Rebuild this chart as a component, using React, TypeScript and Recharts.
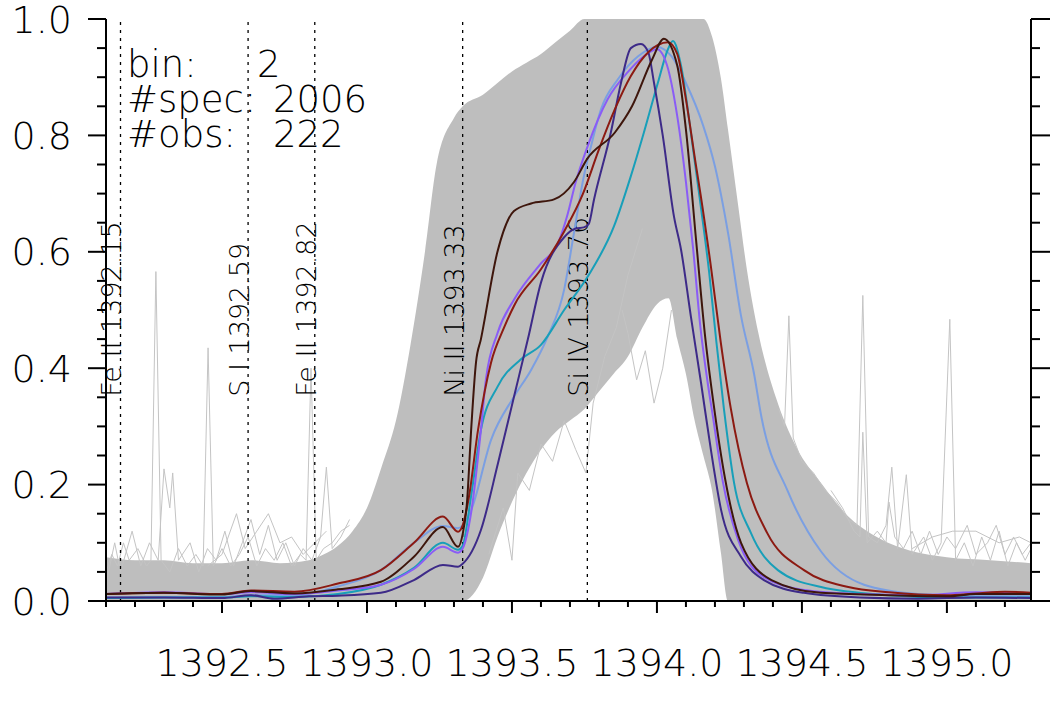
import React from 'react';
import { ComposedChart, Line, Area, XAxis, YAxis, ReferenceLine } from 'recharts';

// axis ticks (minor + major), majors get labels
const xTicks = [
  1392.1, 1392.2, 1392.3, 1392.4, 1392.5, 1392.6, 1392.7, 1392.8, 1392.9,
  1393.0, 1393.1, 1393.2, 1393.3, 1393.4, 1393.5, 1393.6, 1393.7, 1393.8, 1393.9,
  1394.0, 1394.1, 1394.2, 1394.3, 1394.4, 1394.5, 1394.6, 1394.7, 1394.8, 1394.9,
  1395.0, 1395.1, 1395.2,
];
const xMajor = [1392.5, 1393.0, 1393.5, 1394.0, 1394.5, 1395.0];
const yTicks = [
  0, 0.05, 0.1, 0.15, 0.2, 0.25, 0.3, 0.35, 0.4, 0.45, 0.5,
  0.55, 0.6, 0.65, 0.7, 0.75, 0.8, 0.85, 0.9, 0.95, 1.0,
];
const yMajor = [0, 0.2, 0.4, 0.6, 0.8, 1.0];

// line identifications
const lineIds = [1392.15, 1392.59, 1392.82, 1393.33, 1393.76];
const lineNames = ['Fe II 1392.15', 'S I 1392.59', 'Fe II 1392.82', 'Ni II 1393.33', 'Si IV 1393.76'];

// legend rows
const legendRows: [string, string][] = [
  ['bin:', '2'],
  ['#spec:', '2006'],
  ['#obs:', '222'],
];

// envelope of the grey spectra: [wavelength, low, high]
const envelope: [number, number, number][] = [
  [1392.10, 0, 0.075], [1392.20, 0, 0.07], [1392.30, 0, 0.07], [1392.40, 0, 0.065],
  [1392.50, 0, 0.065], [1392.60, 0, 0.07], [1392.70, 0, 0.065], [1392.80, 0, 0.07],
  [1392.85, 0, 0.08], [1392.90, 0, 0.095], [1392.95, 0, 0.12], [1393.00, 0, 0.16],
  [1393.05, 0, 0.23], [1393.10, 0, 0.31], [1393.15, 0, 0.44], [1393.20, 0, 0.6],
  [1393.24, 0, 0.75], [1393.30, 0, 0.83], [1393.33, 0, 0.85], [1393.40, 0.04, 0.87],
  [1393.45, 0.11, 0.89], [1393.50, 0.17, 0.91], [1393.55, 0.22, 0.925], [1393.60, 0.26, 0.94],
  [1393.65, 0.29, 0.96], [1393.70, 0.31, 0.98], [1393.75, 0.33, 1.0], [1393.80, 0.36, 1.0],
  [1393.85, 0.39, 1.0], [1393.90, 0.42, 1.0], [1393.95, 0.47, 1.0], [1394.00, 0.51, 1.0],
  [1394.04, 0.52, 1.0], [1394.07, 0.45, 1.0], [1394.10, 0.39, 1.0], [1394.13, 0.31, 1.0],
  [1394.16, 0.25, 1.0], [1394.19, 0.19, 0.97], [1394.22, 0.085, 0.9], [1394.245, 0, 0.81],
  [1394.28, 0, 0.68], [1394.31, 0, 0.57], [1394.35, 0, 0.46], [1394.41, 0, 0.35],
  [1394.48, 0, 0.265], [1394.57, 0, 0.2], [1394.66, 0, 0.145], [1394.74, 0, 0.115],
  [1394.85, 0, 0.09], [1395.00, 0, 0.075], [1395.15, 0, 0.07], [1395.29, 0, 0.065],
];

// individual grey spectra standing out of the cloud
const greyL1: [number, number][] = [
  [1392.10, 0.05], [1392.12, 0.08], [1392.14, 0.06], [1392.16, 0.1], [1392.18, 0.07], [1392.21, 0.09],
  [1392.24, 0.06], [1392.255, 0.07], [1392.272, 0.566], [1392.29, 0.07], [1392.32, 0.05], [1392.35, 0.09],
  [1392.38, 0.06], [1392.41, 0.08], [1392.435, 0.06], [1392.452, 0.435], [1392.47, 0.06], [1392.5, 0.09],
  [1392.53, 0.06], [1392.56, 0.08], [1392.59, 0.11], [1392.62, 0.06], [1392.65, 0.09], [1392.68, 0.07],
  [1392.71, 0.1], [1392.74, 0.06], [1392.77, 0.08], [1392.79, 0.07], [1392.807, 0.4], [1392.825, 0.07],
  [1392.85, 0.09], [1392.88, 0.1], [1392.91, 0.12], [1392.94, 0.13],
];
const greyL2: [number, number][] = [
  [1392.10, 0.03], [1392.13, 0.1], [1392.15, 0.05], [1392.19, 0.12], [1392.22, 0.06], [1392.25, 0.1],
  [1392.28, 0.07], [1392.30, 0.227], [1392.32, 0.16], [1392.33, 0.22], [1392.35, 0.07], [1392.39, 0.1],
  [1392.42, 0.05], [1392.45, 0.09], [1392.48, 0.07], [1392.51, 0.12], [1392.54, 0.06], [1392.57, 0.1],
  [1392.60, 0.14], [1392.63, 0.08], [1392.66, 0.13], [1392.69, 0.07], [1392.72, 0.1], [1392.75, 0.06],
  [1392.78, 0.09], [1392.81, 0.07], [1392.84, 0.11], [1392.86, 0.23], [1392.88, 0.09], [1392.91, 0.11],
  [1392.94, 0.14],
];
const greyL3: [number, number][] = [
  [1392.45, 0.06], [1392.50, 0.08], [1392.55, 0.15], [1392.58, 0.09], [1392.62, 0.12], [1392.66, 0.15],
  [1392.70, 0.1], [1392.74, 0.11], [1392.78, 0.08], [1392.82, 0.1], [1392.86, 0.12],
];
const greyR1: [number, number][] = [
  [1394.42, 0.33], [1394.44, 0.3], [1394.455, 0.49], [1394.47, 0.28], [1394.50, 0.24], [1394.54, 0.22],
  [1394.58, 0.19], [1394.62, 0.17], [1394.66, 0.14], [1394.69, 0.13], [1394.71, 0.525], [1394.73, 0.11],
  [1394.76, 0.1], [1394.79, 0.13], [1394.81, 0.23], [1394.83, 0.09], [1394.86, 0.217], [1394.88, 0.08],
  [1394.92, 0.11], [1394.95, 0.07], [1394.98, 0.1], [1395.01, 0.484], [1395.03, 0.07], [1395.06, 0.1],
  [1395.09, 0.06], [1395.12, 0.11], [1395.15, 0.07], [1395.18, 0.12], [1395.21, 0.06], [1395.24, 0.1],
  [1395.27, 0.07], [1395.29, 0.09],
];
const greyR2: [number, number][] = [
  [1394.60, 0.19], [1394.64, 0.16], [1394.68, 0.12], [1394.70, 0.11], [1394.71, 0.29], [1394.725, 0.1],
  [1394.76, 0.12], [1394.79, 0.1], [1394.80, 0.17], [1394.82, 0.11], [1394.85, 0.09], [1394.88, 0.12],
  [1394.91, 0.08], [1394.94, 0.12], [1394.97, 0.08], [1395.00, 0.11], [1395.03, 0.09], [1395.07, 0.13],
  [1395.10, 0.08], [1395.14, 0.1], [1395.17, 0.13], [1395.20, 0.08], [1395.23, 0.11], [1395.26, 0.08],
  [1395.29, 0.1],
];
const greyR3: [number, number][] = [
  [1394.88, 0.09], [1394.95, 0.11], [1395.02, 0.12], [1395.10, 0.12], [1395.18, 0.1], [1395.25, 0.11],
  [1395.29, 0.1],
];
const greyH1: [number, number][] = [
  [1393.42, 0.08], [1393.47, 0.16], [1393.50, 0.07], [1393.52, 0.22], [1393.56, 0.19], [1393.60, 0.27],
  [1393.64, 0.24], [1393.68, 0.31], [1393.72, 0.26], [1393.755, 0.22], [1393.78, 0.34], [1393.82, 0.42],
  [1393.86, 0.47], [1393.90, 0.56], [1393.95, 0.64],
];
const greyH2: [number, number][] = [
  [1393.88, 0.5], [1393.90, 0.46], [1393.93, 0.38], [1393.96, 0.43], [1393.99, 0.34], [1394.02, 0.4],
  [1394.05, 0.5],
];

// representative profiles
const brownProfile: [number, number][] = [
  [1392.10, 0.012], [1392.30, 0.014], [1392.50, 0.011], [1392.60, 0.017], [1392.75, 0.013], [1392.90, 0.02],
  [1393.048, 0.033], [1393.162, 0.076], [1393.262, 0.127], [1393.314, 0.093], [1393.33, 0.115],
  [1393.345, 0.17], [1393.36, 0.3], [1393.376, 0.41], [1393.393, 0.45], [1393.45, 0.6], [1393.507, 0.67],
  [1393.566, 0.683], [1393.645, 0.69], [1393.714, 0.72], [1393.76, 0.76], [1393.855, 0.805],
  [1393.914, 0.85], [1393.983, 0.93], [1394.024, 0.966], [1394.07, 0.92], [1394.10, 0.81],
  [1394.135, 0.62], [1394.165, 0.46], [1394.195, 0.34], [1394.235, 0.21], [1394.29, 0.1],
  [1394.395, 0.036], [1394.565, 0.014], [1394.80, 0.01], [1395.00, 0.008], [1395.10, 0.012], [1395.29, 0.012],
];
const indigoProfile: [number, number][] = [
  [1392.10, 0.006], [1392.30, 0.006], [1392.50, 0.005], [1392.60, 0.01], [1392.68, 0.004], [1392.80, 0.008],
  [1392.90, 0.009], [1393.048, 0.014], [1393.162, 0.036], [1393.262, 0.062], [1393.314, 0.059],
  [1393.33, 0.064], [1393.393, 0.122], [1393.452, 0.237], [1393.507, 0.351], [1393.555, 0.45],
  [1393.60, 0.547], [1393.68, 0.625], [1393.72, 0.64], [1393.748, 0.642], [1393.765, 0.648],
  [1393.783, 0.69], [1393.841, 0.805], [1393.876, 0.89], [1393.91, 0.95], [1393.945, 0.957],
  [1393.97, 0.943], [1393.99, 0.89], [1394.02, 0.8], [1394.059, 0.66], [1394.083, 0.604],
  [1394.117, 0.489], [1394.152, 0.375], [1394.186, 0.26], [1394.221, 0.157], [1394.29, 0.076],
  [1394.369, 0.036], [1394.507, 0.014], [1394.70, 0.006], [1394.90, 0.004], [1395.10, 0.006], [1395.29, 0.005],
];
const violetProfile: [number, number][] = [
  [1392.10, 0.012], [1392.30, 0.015], [1392.50, 0.012], [1392.60, 0.015], [1392.75, 0.012], [1392.90, 0.018],
  [1393.048, 0.028], [1393.162, 0.055], [1393.262, 0.093], [1393.314, 0.083], [1393.33, 0.09],
  [1393.359, 0.151], [1393.393, 0.294], [1393.41, 0.38], [1393.45, 0.46], [1393.51, 0.52], [1393.60, 0.58],
  [1393.66, 0.616], [1393.69, 0.661], [1393.72, 0.72], [1393.76, 0.78], [1393.83, 0.862], [1393.90, 0.909],
  [1393.955, 0.936], [1394.00, 0.948], [1394.035, 0.92], [1394.07, 0.833], [1394.10, 0.72],
  [1394.125, 0.604], [1394.15, 0.47], [1394.175, 0.375], [1394.193, 0.317], [1394.228, 0.203],
  [1394.28, 0.105], [1394.369, 0.041], [1394.507, 0.019], [1394.70, 0.012], [1394.90, 0.01],
  [1395.10, 0.015], [1395.29, 0.012],
];
const redProfile: [number, number][] = [
  [1392.10, 0.012], [1392.30, 0.014], [1392.50, 0.012], [1392.60, 0.018], [1392.75, 0.016], [1392.90, 0.03],
  [1393.048, 0.053], [1393.162, 0.1], [1393.262, 0.145], [1393.314, 0.119], [1393.33, 0.13],
  [1393.352, 0.18], [1393.383, 0.294], [1393.428, 0.41], [1393.473, 0.47], [1393.51, 0.51], [1393.60, 0.57],
  [1393.68, 0.635], [1393.745, 0.7], [1393.80, 0.776], [1393.855, 0.845], [1393.91, 0.902], [1393.97, 0.943],
  [1394.038, 0.96], [1394.07, 0.94], [1394.10, 0.862], [1394.135, 0.747], [1394.15, 0.7], [1394.186, 0.575],
  [1394.22, 0.445], [1394.255, 0.33], [1394.31, 0.203], [1394.38, 0.117], [1394.507, 0.053],
  [1394.66, 0.024], [1394.80, 0.015], [1395.00, 0.01], [1395.10, 0.013], [1395.20, 0.016], [1395.29, 0.014],
];
const tealProfile: [number, number][] = [
  [1392.10, 0.005], [1392.30, 0.006], [1392.50, 0.006], [1392.60, 0.008], [1392.75, 0.007], [1392.90, 0.012],
  [1393.048, 0.028], [1393.162, 0.057], [1393.262, 0.1], [1393.314, 0.088], [1393.33, 0.095],
  [1393.359, 0.18], [1393.393, 0.294], [1393.45, 0.368], [1393.53, 0.415], [1393.60, 0.44], [1393.68, 0.5],
  [1393.762, 0.558], [1393.852, 0.644], [1393.91, 0.73], [1393.955, 0.805], [1394.003, 0.89],
  [1394.038, 0.948], [1394.055, 0.962], [1394.083, 0.92], [1394.117, 0.805], [1394.148, 0.69],
  [1394.18, 0.565], [1394.205, 0.445], [1394.231, 0.33], [1394.266, 0.203], [1394.324, 0.117],
  [1394.417, 0.053], [1394.566, 0.024], [1394.80, 0.01], [1395.00, 0.006], [1395.29, 0.006],
];
const blueProfile: [number, number][] = [
  [1392.10, 0.006], [1392.30, 0.007], [1392.50, 0.007], [1392.60, 0.01], [1392.75, 0.01], [1392.90, 0.025],
  [1393.048, 0.053], [1393.162, 0.1], [1393.262, 0.129], [1393.314, 0.125], [1393.33, 0.13],
  [1393.36, 0.157], [1393.428, 0.277], [1393.507, 0.351], [1393.566, 0.397], [1393.624, 0.455],
  [1393.68, 0.535], [1393.714, 0.633], [1393.748, 0.73], [1393.77, 0.776], [1393.807, 0.845],
  [1393.866, 0.897], [1393.935, 0.936], [1394.00, 0.952], [1394.05, 0.936], [1394.10, 0.89],
  [1394.16, 0.816], [1394.20, 0.747], [1394.245, 0.633], [1394.29, 0.49], [1394.335, 0.39],
  [1394.36, 0.317], [1394.45, 0.19], [1394.566, 0.085], [1394.714, 0.028], [1394.90, 0.012],
  [1395.10, 0.008], [1395.29, 0.008],
];

const toXY = (pts: [number, number][]) => pts.map(([x, y]) => ({ x, y }));
const envData = envelope.map(([x, lo, hi]) => ({ x, band: [lo, hi] }));

const greyLines = [greyL1, greyL2, greyL3, greyR1, greyR2, greyR3, greyH1, greyH2];
const profiles: { pts: [number, number][]; color: string }[] = [
  { pts: blueProfile, color: '#7b9fe2' },
  { pts: tealProfile, color: '#189fb9' },
  { pts: violetProfile, color: '#8a5cf6' },
  { pts: indigoProfile, color: '#3d2a88' },
  { pts: redProfile, color: '#8c1a12' },
  { pts: brownProfile, color: '#3e160c' },
];

const FONT = '"DejaVu Sans", "Liberation Sans", sans-serif';
const tickText = { fontFamily: FONT, fontSize: 38, fontWeight: 200, fill: '#000' } as const;
const legendText = { fontFamily: FONT, fontSize: 37, fontWeight: 200, fill: '#000' } as const;

const isIn = (v: number, list: number[]) => list.some((m) => Math.abs(m - v) < 1e-6);

const BottomTick = (props: any) => {
  const { x, y, payload } = props;
  const major = isIn(payload.value, xMajor);
  return (
    <g>
      <line x1={x} x2={x} y1={y} y2={y + (major ? 12 : 6)} stroke="#000" strokeWidth={2} />
      {major && (
        <text x={x} y={y + 75} textAnchor="middle" {...tickText}>
          {payload.value.toFixed(1)}
        </text>
      )}
    </g>
  );
};

const TopTick = (props: any) => {
  const { x, y, payload } = props;
  const major = isIn(payload.value, xMajor);
  return <line x1={x} x2={x} y1={y} y2={y - (major ? 12 : 6)} stroke="#000" strokeWidth={2} />;
};

const LeftTick = (props: any) => {
  const { x, y, payload } = props;
  const major = isIn(payload.value, yMajor);
  return (
    <g>
      <line x1={x} x2={x - (major ? 18 : 9)} y1={y} y2={y} stroke="#000" strokeWidth={2} />
      {major && (
        <text x={x - 34} y={y + 13.5} textAnchor="end" {...tickText}>
          {payload.value.toFixed(1)}
        </text>
      )}
    </g>
  );
};

const RightTick = (props: any) => {
  const { x, y, payload } = props;
  const major = isIn(payload.value, yMajor);
  return <line x1={x} x2={x + (major ? 19 : 9)} y1={y} y2={y} stroke="#000" strokeWidth={2} />;
};

// rotated identification label, bottom end at 35% of the plot height
const idLabel = (text: string) => (props: any) => {
  const { viewBox } = props;
  const lx = viewBox.x + 1;
  const ly = viewBox.y + viewBox.height * (1 - 0.351);
  return (
    <text
      x={lx}
      y={ly}
      transform={`rotate(-90 ${lx} ${ly})`}
      fontFamily={FONT}
      fontSize={27}
      fontWeight={200}
      fill="#000"
    >
      {text}
    </text>
  );
};

export default function App() {
  return (
    <div style={{ position: 'absolute', left: 0, top: 0, width: 1062, height: 707, background: '#fff' }}>
      <ComposedChart width={1062} height={707} margin={{ top: 19, right: 0, bottom: 0, left: 0 }}>
        <XAxis
          xAxisId="b"
          dataKey="x"
          type="number"
          domain={[1392.1, 1395.29]}
          allowDataOverflow
          ticks={xTicks}
          interval={0}
          height={106}
          tickSize={0}
          tickMargin={0}
          tickLine={false}
          tick={BottomTick}
          axisLine={{ stroke: '#000', strokeWidth: 2 }}
        />
        <XAxis
          xAxisId="t"
          orientation="top"
          dataKey="x"
          type="number"
          domain={[1392.1, 1395.29]}
          allowDataOverflow
          ticks={xTicks}
          interval={0}
          height={0}
          tickSize={0}
          tickMargin={0}
          tickLine={false}
          tick={TopTick}
          axisLine={{ stroke: '#000', strokeWidth: 2 }}
        />
        <YAxis
          yAxisId="l"
          type="number"
          domain={[0, 1]}
          allowDataOverflow
          ticks={yTicks}
          interval={0}
          width={106}
          tickSize={0}
          tickMargin={0}
          tickLine={false}
          tick={LeftTick}
          axisLine={{ stroke: '#000', strokeWidth: 2 }}
        />
        <YAxis
          yAxisId="r"
          orientation="right"
          type="number"
          domain={[0, 1]}
          allowDataOverflow
          ticks={yTicks}
          interval={0}
          width={31}
          tickSize={0}
          tickMargin={0}
          tickLine={false}
          tick={RightTick}
          axisLine={{ stroke: '#000', strokeWidth: 2 }}
        />

        <Area
          xAxisId="b"
          yAxisId="l"
          data={envData}
          dataKey="band"
          type="monotone"
          stroke="none"
          fill="#bebebe"
          fillOpacity={1}
          isAnimationActive={false}
        />
        {greyLines.map((pts, i) => (
          <Line
            key={'g' + i}
            xAxisId="b"
            yAxisId="l"
            data={toXY(pts)}
            dataKey="y"
            type="linear"
            stroke="#c4c4c4"
            strokeWidth={1}
            dot={false}
            isAnimationActive={false}
          />
        ))}

        {lineIds.map((v, i) => (
          <ReferenceLine
            key={'id' + i}
            xAxisId="b"
            yAxisId="l"
            x={v}
            stroke="#000"
            strokeWidth={1.3}
            strokeDasharray="3 5"
            label={idLabel(lineNames[i])}
          />
        ))}

        {profiles.map((p, i) => (
          <Line
            key={'p' + i}
            xAxisId="b"
            yAxisId="l"
            data={toXY(p.pts)}
            dataKey="y"
            type="monotone"
            stroke={p.color}
            strokeWidth={2}
            dot={false}
            isAnimationActive={false}
          />
        ))}
      </ComposedChart>

      <svg
        width={1062}
        height={707}
        style={{ position: 'absolute', left: 0, top: 0, pointerEvents: 'none' }}
      >
        {legendRows.map(([k, v], i) => (
          <text key={k} y={77 + i * 35} {...legendText}>
            <tspan x={127}>{k}</tspan>
            <tspan x={i === 0 ? 257 : 273}>{v}</tspan>
          </text>
        ))}
      </svg>
    </div>
  );
}
